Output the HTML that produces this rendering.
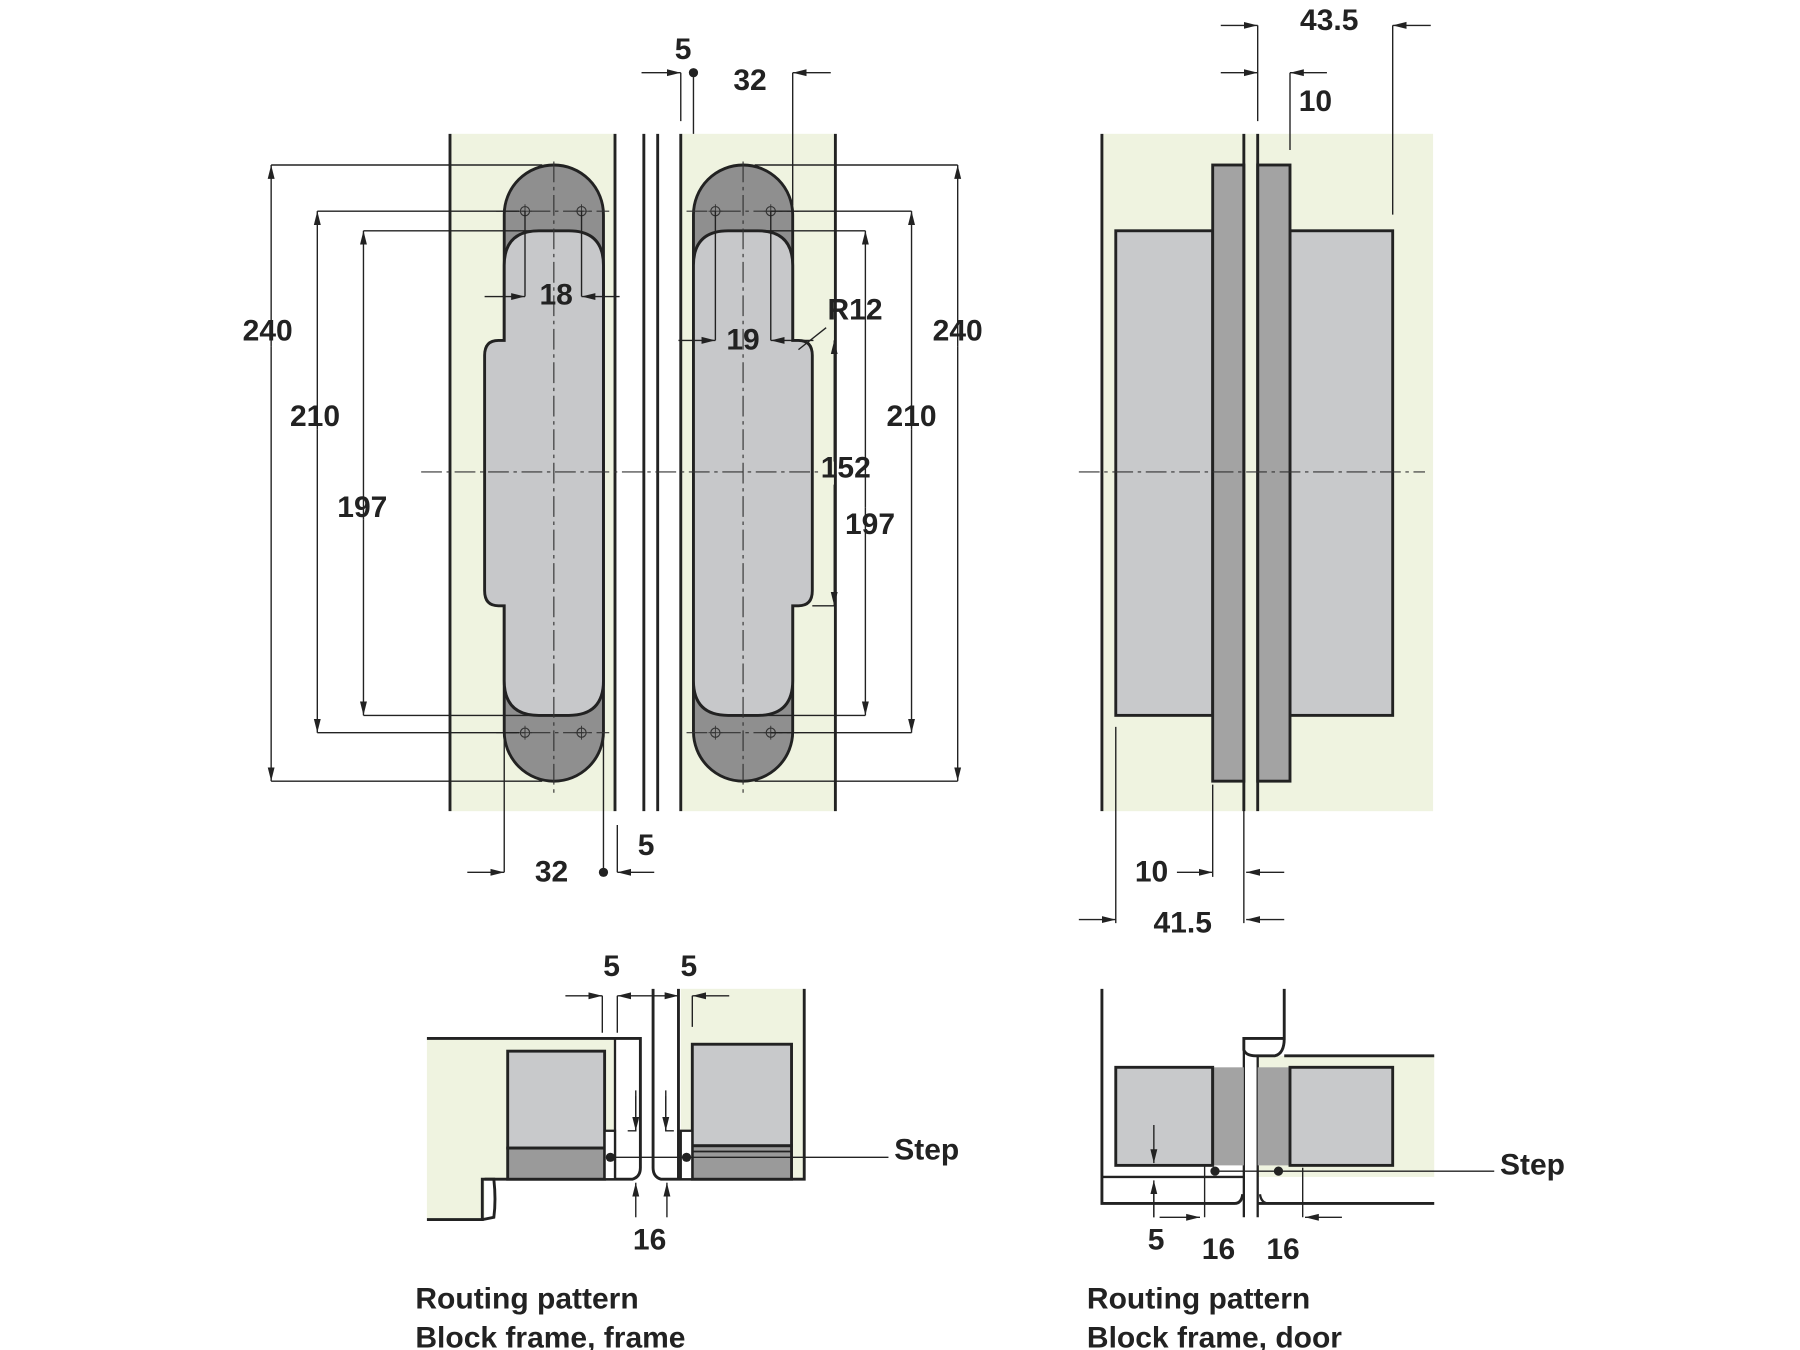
<!DOCTYPE html>
<html><head><meta charset="utf-8"><style>
html,body{margin:0;padding:0;background:#fff;}
svg{display:block;}
text{font-family:"Liberation Sans",Arial,sans-serif;font-weight:bold;fill:#222;}
</style></head><body>
<svg width="1800" height="1350" viewBox="0 0 1560 1170" preserveAspectRatio="none" xmlns="http://www.w3.org/2000/svg">
<defs>
<marker id="a" viewBox="0 0 12 8" refX="12" refY="4" markerWidth="12" markerHeight="8" markerUnits="userSpaceOnUse" orient="auto"><path d="M0,1 L12,4 L0,7 Z" fill="#222"/></marker>
<g id="hole"><circle r="4" fill="none" stroke="#333" stroke-width="1"/><path d="M-6,0H6M0,-6V6" stroke="#333" stroke-width="0.8"/></g>
</defs>
<g stroke="#222" fill="none">
<rect x="390" y="116" width="143" height="587" fill="#eff3e0" stroke="none"/>
<rect x="590" y="116" width="134" height="587" fill="#eff3e0" stroke="none"/>
<path d="M390,116V703M533,116V703M558,116V703M570,116V703M590,116V703M724,116V703" stroke-width="2.5"/>
<rect x="437" y="143" width="86" height="534" rx="43" fill="#8f8f8f" stroke-width="2.5"/>
<path d="M437,230Q437,200 467,200L493,200Q523,200 523,230L523,590Q523,620 493,620L467,620Q437,620 437,590L437,525L432,525Q420,525 420,512L420,308Q420,295 432,295L437,295Z" fill="#c7c8ca" stroke-width="2.5"/>
<rect x="601" y="143" width="86" height="534" rx="43" fill="#8f8f8f" stroke-width="2.5"/>
<path d="M687,230Q687,200 657,200L631,200Q601,200 601,230L601,590Q601,620 631,620L657,620Q687,620 687,590L687,525L692,525Q704,525 704,512L704,308Q704,295 692,295L687,295Z" fill="#c7c8ca" stroke-width="2.5"/>

<rect x="955" y="116" width="287" height="587" fill="#eff3e0" stroke="none"/>
<rect x="967" y="200" width="84" height="420" fill="#c8c9cb" stroke-width="2.5"/>
<rect x="1118" y="200" width="89" height="420" fill="#c8c9cb" stroke-width="2.5"/>
<rect x="1051" y="143" width="27" height="534" fill="#a3a3a3" stroke-width="2.5"/>
<rect x="1090" y="143" width="28" height="534" fill="#a3a3a3" stroke-width="2.5"/>
<path d="M955,116V703M1078,116V703M1090,116V703" stroke-width="2.5"/>

<g stroke-width="1" stroke="#333" stroke-dasharray="18,4,3,4">
<path d="M480,140V690M644,140V690M365,409H712M935,409H1235"/>
<path d="M430,183H528M430,635H528M595,183H692M595,635H692"/>
</g>
<use href="#hole" x="455" y="183"/><use href="#hole" x="504" y="183"/><use href="#hole" x="455" y="635"/><use href="#hole" x="504" y="635"/>
<use href="#hole" x="620" y="183"/><use href="#hole" x="668" y="183"/><use href="#hole" x="620" y="635"/><use href="#hole" x="668" y="635"/>
<g stroke-width="1.2">
<path d="M235,143H470M235,677H470M275,183H450M275,635H450M315,200H470M315,620H470"/>
<path d="M235,300V143" marker-end="url(#a)"/><path d="M235,300V677" marker-end="url(#a)"/>
<path d="M275,372V183" marker-end="url(#a)"/><path d="M275,372V635" marker-end="url(#a)"/>
<path d="M315,450V200" marker-end="url(#a)"/><path d="M315,450V620" marker-end="url(#a)"/>
<path d="M455,183V257M504,183V257"/>
<path d="M420,257H455" marker-end="url(#a)"/><path d="M537,257H504" marker-end="url(#a)"/>
<path d="M654,143H830M654,677H830M668,183H790M668,635H790M660,200H750M660,620H750M704,525H723"/>
<path d="M830,300V143" marker-end="url(#a)"/><path d="M830,300V677" marker-end="url(#a)"/>
<path d="M790,372V183" marker-end="url(#a)"/><path d="M790,372V635" marker-end="url(#a)"/>
<path d="M750,440V200" marker-end="url(#a)"/><path d="M750,440V620" marker-end="url(#a)"/>
<path d="M723,400V295" marker-end="url(#a)"/><path d="M723,420V525" marker-end="url(#a)"/>
<path d="M620,183V295M668,183V295"/>
<path d="M588,295H620" marker-end="url(#a)"/><path d="M705,295H668" marker-end="url(#a)"/>
<path d="M716,284L692,303"/>
<path d="M556,63H590" marker-end="url(#a)"/><path d="M590,63V105M601,63V116M687,63V178"/>
<path d="M720,63H687" marker-end="url(#a)"/>
<path d="M405,756H437" marker-end="url(#a)"/><path d="M437,640V756M523,640V756M535,715V756"/>
<path d="M567,756H535" marker-end="url(#a)"/>
<path d="M1058,22H1090" marker-end="url(#a)"/><path d="M1090,22V105M1207,22V186"/>
<path d="M1240,22H1207" marker-end="url(#a)"/>
<path d="M1058,63H1090" marker-end="url(#a)"/><path d="M1118,63V130"/>
<path d="M1150,63H1118" marker-end="url(#a)"/>
<path d="M1051,680V760M1078,700V800M967,630V800"/>
<path d="M1020,756H1051" marker-end="url(#a)"/><path d="M1113,756H1080" marker-end="url(#a)"/>
<path d="M935,797H967" marker-end="url(#a)"/><path d="M1113,797H1080" marker-end="url(#a)"/>
</g>
<circle cx="601" cy="63" r="4" fill="#222" stroke="none"/>
<circle cx="523" cy="756" r="4" fill="#222" stroke="none"/>

<path d="M370,900H533V1022H420V1057H370Z" fill="#eff3e0" stroke="none"/>
<rect x="590" y="857" width="107" height="165" fill="#eff3e0" stroke="none"/>
<path d="M370,900H555V1012Q555,1020 548,1022H420" stroke-width="2.5"/>
<path d="M533,900V1022" stroke-width="2"/>
<path d="M370,1057H418V1022H428Q430,1040 428,1055L418,1057" stroke-width="2.5"/>
<rect x="440" y="911" width="84" height="84" fill="#c8c9cb" stroke-width="2.5"/>
<rect x="440" y="995" width="84" height="27" fill="#9a9a9a" stroke-width="2.5"/>
<rect x="524" y="980" width="9" height="42" fill="#fff" stroke-width="2"/>
<path d="M566,857V1012Q566,1020 573,1022H697V857" stroke-width="2.5"/>
<path d="M588,857V1022" stroke-width="2.5"/>
<rect x="600" y="905" width="86" height="88" fill="#c8c9cb" stroke-width="2.5"/>
<rect x="600" y="993" width="86" height="29" fill="#9a9a9a" stroke-width="2.5"/>
<path d="M600,998H686" stroke-width="1.5"/>
<rect x="590" y="980" width="10" height="42" fill="#fff" stroke-width="2"/>
<path d="M529,1003H770" stroke-width="1.2"/>
<circle cx="529" cy="1003" r="4" fill="#222" stroke="none"/>
<circle cx="595" cy="1003" r="4" fill="#222" stroke="none"/>
<g stroke-width="1.2">
<path d="M490,863H522" marker-end="url(#a)"/><path d="M522,863V895M535,863V895M600,863V890"/>
<path d="M565,863H535" marker-end="url(#a)"/><path d="M566,863H588" marker-end="url(#a)"/>
<path d="M632,863H600" marker-end="url(#a)"/>
<path d="M551,950V980H544M577,950V980H584"/>
<path d="M551,945V980" marker-end="url(#a)"/><path d="M577,945V980" marker-end="url(#a)"/>
<path d="M551,1055V1025" marker-end="url(#a)"/><path d="M578,1055V1025" marker-end="url(#a)"/>
</g>

<rect x="1090" y="915" width="153" height="105" fill="#eff3e0" stroke="none"/>
<path d="M1113,915H1243M1090,1043H1243" stroke-width="2.5"/>
<path d="M955,857V1043H1070Q1076,1043 1077,1035" stroke-width="2.5"/>
<path d="M955,1020H1078" stroke-width="2"/>
<path d="M1078,905V1055M1090,912V1055" stroke-width="2"/>
<path d="M1092,1035Q1093,1043 1100,1043" stroke-width="2"/>
<path d="M1113,857V900H1078V910Q1080,915 1088,915H1105Q1113,913 1113,900" fill="#fff" stroke-width="2.5"/>
<rect x="967" y="925" width="84" height="85" fill="#c8c9cb" stroke-width="2.5"/>
<rect x="1051" y="925" width="27" height="85" fill="#a3a3a3" stroke="none"/>
<rect x="1090" y="925" width="28" height="85" fill="#a3a3a3" stroke="none"/>
<path d="M1051,925V1010" stroke-width="2.5"/>
<rect x="1118" y="925" width="89" height="85" fill="#c8c9cb" stroke-width="2.5"/>
<path d="M1053,1015H1295" stroke-width="1.2"/>
<circle cx="1053" cy="1015" r="4" fill="#222" stroke="none"/>
<circle cx="1108" cy="1015" r="4" fill="#222" stroke="none"/>
<g stroke-width="1.2">
<path d="M1000,975V1008" marker-end="url(#a)"/>
<path d="M1000,1055V1023" marker-end="url(#a)"/>
<path d="M1000,1030V1055M1044,1010V1055M1129,1012V1055"/>
<path d="M1005,1055H1040" marker-end="url(#a)"/>
<path d="M1163,1055H1131" marker-end="url(#a)"/>
</g>
</g>
<g font-size="26">
<text x="592" y="51" text-anchor="middle">5</text>
<text x="650" y="78" text-anchor="middle">32</text>
<text x="232" y="295" text-anchor="middle">240</text>
<text x="273" y="369" text-anchor="middle">210</text>
<text x="314" y="448" text-anchor="middle">197</text>
<text x="482" y="264" text-anchor="middle">18</text>
<text x="644" y="303" text-anchor="middle">19</text>
<text x="741" y="277" text-anchor="middle">R12</text>
<text x="830" y="295" text-anchor="middle">240</text>
<text x="790" y="369" text-anchor="middle">210</text>
<text x="733" y="414" text-anchor="middle">152</text>
<text x="754" y="463" text-anchor="middle">197</text>
<text x="478" y="764" text-anchor="middle">32</text>
<text x="560" y="741" text-anchor="middle">5</text>
<text x="1152" y="26" text-anchor="middle">43.5</text>
<text x="1140" y="96" text-anchor="middle">10</text>
<text x="998" y="764" text-anchor="middle">10</text>
<text x="1025" y="808" text-anchor="middle">41.5</text>
<text x="530" y="846" text-anchor="middle">5</text>
<text x="597" y="846" text-anchor="middle">5</text>
<text x="775" y="1005">Step</text>
<text x="563" y="1083" text-anchor="middle">16</text>
<text x="1300" y="1018">Step</text>
<text x="1002" y="1083" text-anchor="middle">5</text>
<text x="1056" y="1091" text-anchor="middle">16</text>
<text x="1112" y="1091" text-anchor="middle">16</text>
<text x="360" y="1134">Routing pattern</text>
<text x="360" y="1168">Block frame, frame</text>
<text x="942" y="1134">Routing pattern</text>
<text x="942" y="1168">Block frame, door</text>
</g>
</svg>
</body></html>
